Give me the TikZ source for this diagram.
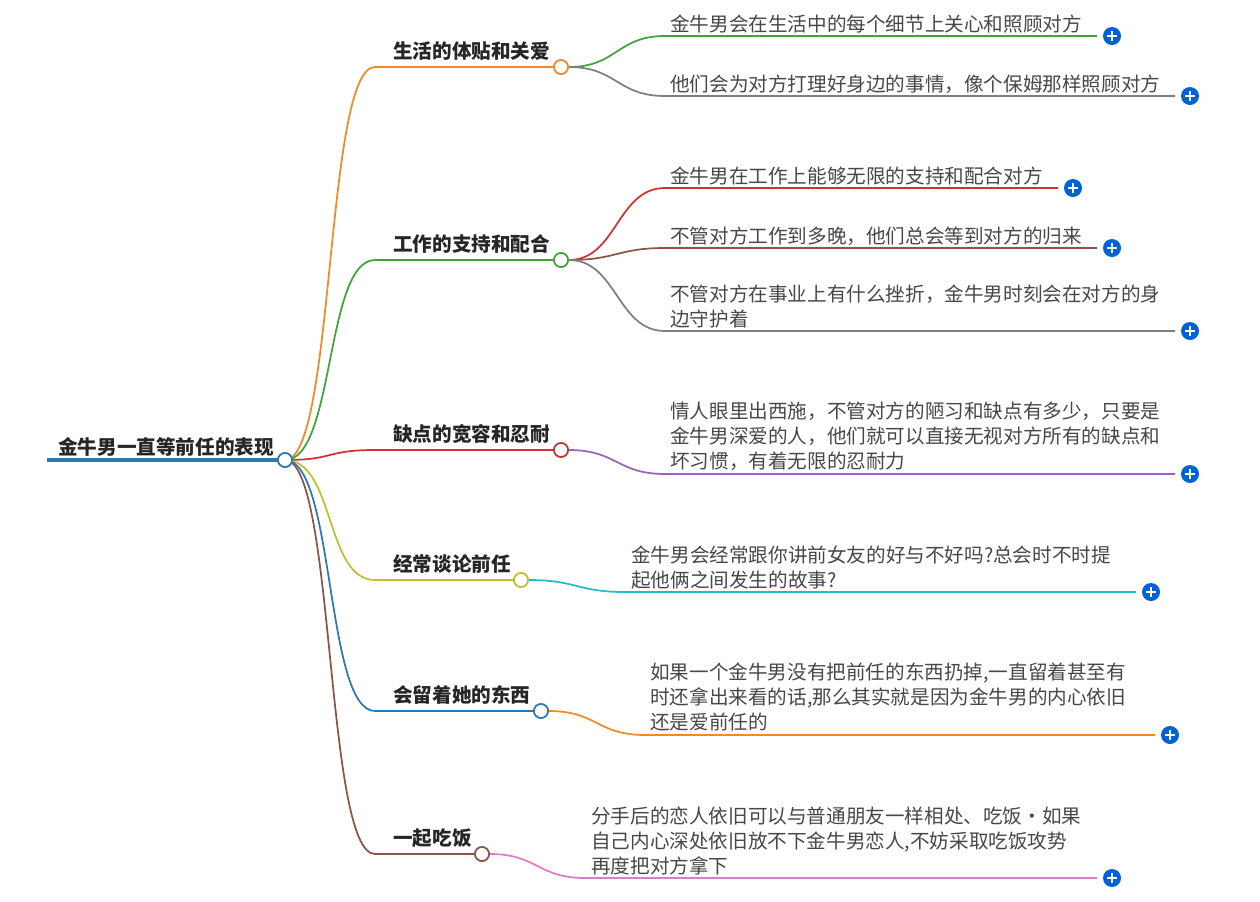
\documentclass[tikz,border=0pt]{standalone}
\usepackage{fontspec}
\setmainfont{Noto Sans CJK SC}
\usetikzlibrary{calc}
\begin{document}
\begin{tikzpicture}[x=0.75pt,y=-0.75pt,
  txt/.style={inner sep=0pt,anchor=base west,font=\fontsize{14.7pt}{18.75pt}\selectfont,text=black!72,align=left},
  btxt/.style={inner sep=0pt,anchor=base west,font=\fontsize{14.7pt}{18.75pt}\selectfont\bfseries,text=black!85},
  dot/.style={circle,draw,fill=white,line width=1.2pt,minimum size=10.5pt,inner sep=0pt},
  plusic/.style={circle,fill=blue!55!cyan!85!black,minimum size=13.5pt,inner sep=0pt,
    path picture={\draw[white,line width=1.3pt] ([xshift=-3.5pt]path picture bounding box.center)--([xshift=3.5pt]path picture bounding box.center)
    ([yshift=-3.5pt]path picture bounding box.center)--([yshift=3.5pt]path picture bounding box.center);}},
  ln/.style={line width=1.3pt}]
\definecolor{cOr}{HTML}{F08A24}\definecolor{cGr}{HTML}{3DA53A}\definecolor{cRd}{HTML}{D03232}
\definecolor{cOl}{HTML}{C4BE2E}\definecolor{cBl}{HTML}{2C78B0}\definecolor{cBr}{HTML}{8A5544}
\definecolor{cGy}{HTML}{7F7F7F}\definecolor{cPu}{HTML}{9A62BE}\definecolor{cCy}{HTML}{28B8CC}
\definecolor{cPk}{HTML}{E07CC4}\definecolor{cBn}{HTML}{8C5646}
\useasboundingbox (0,0) rectangle (1260,901);
\node[btxt] (rt) at (58,454) {金牛男一直等前任的表现};
\draw[cBl,line width=3.5pt] (47,460) -- (278,460);
\node[dot,draw=cBl] (r) at (285,460) {};
\foreach \y/\ty/\cx/\c/\t/\n in {67/58/561/cOr/生活的体贴和关爱/b1,260/251/561/cGr/工作的支持和配合/b2,450/441/561/cRd/缺点的宽容和忍耐/b3,580/571/521/cOl/经常谈论前任/b4,711/702/541/cBl/会留着她的东西/b5,854/845/482/cBr/一起吃饭/b6}{
  \coordinate (\n s) at (375,\y);
  \draw[\c,ln] (r.center) .. controls (335,460) and (325,\y) .. (\n s) -- (\cx,\y);
  \node[dot,draw=\c] (\n) at (\cx,\y) {};
  \node[btxt] (\n t) at (393,\ty) {\t};
}
\node[dot,draw=cBl] at (285,460) {};
\foreach \f/\sx/\yy/\ex/\px/\c/\tx/\ty/\t in {
 b1/665/36/1097/1112/cGr/670/31/{金牛男会在生活中的每个细节上关心和照顾对方},
 b1/665/96/1175/1190/cGy/670/91/{他们会为对方打理好身边的事情，像个保姆那样照顾对方},
 b2/665/188/1058/1073/cRd/670/183/{金牛男在工作上能够无限的支持和配合对方},
 b2/665/248/1097/1112/cBn/670/243/{不管对方工作到多晚，他们总会等到对方的归来},
 b2/665/331/1175/1190/cGy/670/326/{不管对方在事业上有什么挫折，金牛男时刻会在对方的身\\边守护着},
 b3/665/474/1175/1190/cPu/670/468/{情人眼里出西施，不管对方的陋习和缺点有多少，只要是\\金牛男深爱的人，他们就可以直接无视对方所有的缺点和\\坏习惯，有着无限的忍耐力},
 b4/625/592/1136/1151/cCy/631/587/{金牛男会经常跟你讲前女友的好与不好吗?总会时不时提\\起他俩之间发生的故事?},
 b5/645/735/1155/1170/cOr/650/729/{如果一个金牛男没有把前任的东西扔掉,一直留着甚至有\\时还拿出来看的话,那么其实就是因为金牛男的内心依旧\\还是爱前任的},
 b6/585/878/1097/1112/cPk/591/873/{分手后的恋人依旧可以与普通朋友一样相处、吃饭·如果\\自己内心深处依旧放不下金牛男恋人,不妨采取吃饭攻势\\再度把对方拿下}}{
  \coordinate (S\yy) at (\sx,\yy);
  \coordinate (M\yy) at ($(\f.east)!0.5!(S\yy)$);
  \draw[\c,ln] (\f.east) .. controls (M\yy |- \f.east) and (M\yy |- S\yy) .. (S\yy) -- (\ex,\yy);
  \node[plusic] (P\yy) at (\px,\yy) {};
  \node[txt] (T\yy) at (\tx,\ty) {\t};
}
\foreach \n/\c in {b1/cOr,b2/cGr,b3/cRd,b4/cOl,b5/cBl,b6/cBr}{\node[dot,draw=\c] at (\n) {};}
\end{tikzpicture}
\end{document}
